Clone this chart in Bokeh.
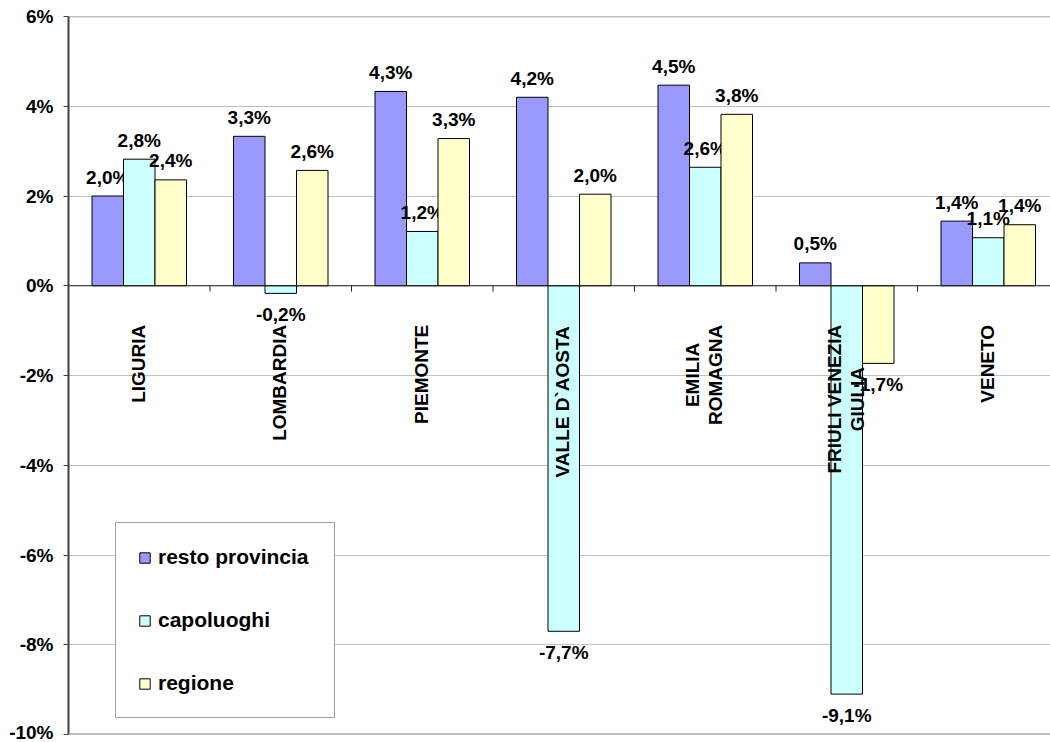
import math
from bokeh.plotting import figure
from bokeh.models import ColumnDataSource, Span, Legend, LegendItem, FixedTicker
from bokeh.core.properties import value
from bokeh.embed import file_html
from bokeh.resources import INLINE

# ---------------- data ----------------
categories = ["LIGURIA", "LOMBARDIA", "PIEMONTE", "VALLE D`AOSTA",
              "EMILIA\nROMAGNA", "FRIULI VENEZIA\nGIULIA", "VENETO"]
series_names = ["resto provincia", "capoluoghi", "regione"]
resto_provincia = [2.0, 3.33, 4.33, 4.2, 4.47, 0.51, 1.44]
capoluoghi = [2.82, -0.17, 1.21, -7.7, 2.64, -9.1, 1.07]
regione = [2.36, 2.57, 3.28, 2.04, 3.82, -1.73, 1.36]
y_ticks = [-10, -8, -6, -4, -2, 0, 2, 4, 6]
y_tick_labels = ["-10%", "-8%", "-6%", "-4%", "-2%", "0%", "2%", "4%", "6%"]
colors = ["#9999FF", "#CCFFFF", "#FFFFCC"]

# ---------------- layout ----------------
FONT = "Liberation Sans"
W, H = 1050, 742
LEFT, TOP, BOTTOM = 68, 16, 8
cat_px = 141.5
x_end = (W - LEFT) / cat_px
bar_w = 31.5 / cat_px
LABEL_PX = 19

# approximate Arial-bold advance widths (per 1000 em) for centering multi-line labels
_wid = {"A": 722, "B": 722, "C": 722, "D": 722, "E": 667, "F": 611, "G": 778, "H": 722,
        "I": 278, "J": 556, "K": 722, "L": 611, "M": 833, "N": 722, "O": 778, "P": 667,
        "Q": 778, "R": 722, "S": 667, "T": 611, "U": 722, "V": 667, "W": 944, "X": 667,
        "Y": 667, "Z": 611, " ": 278, "`": 333, "'": 238}


def text_w(s, px):
    return sum(_wid.get(c, 600) for c in s) * px / 1000.0


p = figure(width=W, height=H, x_range=(0, x_end), y_range=(-10, 6),
           output_backend="svg", toolbar_location=None, x_axis_location=None,
           min_border_left=LEFT, min_border_right=0, min_border_top=TOP,
           min_border_bottom=BOTTOM)
p.background_fill_color = "white"
p.border_fill_color = "white"
p.outline_line_color = None

# y axis
p.yaxis.ticker = FixedTicker(ticks=y_ticks)
p.yaxis.major_label_overrides = {t: l for t, l in zip(y_ticks, y_tick_labels)}
p.yaxis.major_label_text_font = FONT
p.yaxis.major_label_text_font_style = "bold"
p.yaxis.major_label_text_font_size = "19px"
p.yaxis.major_label_text_color = "black"
p.yaxis.major_label_standoff = 10
p.yaxis.major_tick_out = 5
p.yaxis.major_tick_in = 0
p.yaxis.minor_tick_line_color = None
p.yaxis.axis_line_color = "#404040"
p.yaxis.axis_line_width = 2
p.yaxis.major_tick_line_color = "#404040"

p.xgrid.grid_line_color = None
p.ygrid.ticker = FixedTicker(ticks=y_ticks)
p.ygrid.grid_line_color = "#C0C0C0"
p.ygrid.grid_line_width = 1

p.add_layout(Span(location=6, dimension="width", line_color="#808080", line_width=1.5))
p.add_layout(Span(location=-10, dimension="width", line_color="#808080", line_width=2))

# bars
series_vals = [resto_provincia, capoluoghi, regione]
renderers = []
for k, (name, vals, col) in enumerate(zip(series_names, series_vals, colors)):
    xs = [i + 0.5 + (k - 1) * bar_w for i in range(len(categories))]
    src = ColumnDataSource(dict(
        x=xs, top=vals,
        label=[("%.1f" % v).replace(".", ",") + "%" for v in vals],
        yoff=[-19 if v >= 0 else 21 for v in vals],
    ))
    r = p.vbar(x="x", top="top", bottom=0, width=bar_w, source=src,
               fill_color=col, line_color="black", line_width=1)
    renderers.append(r)
    p.text(x="x", y="top", text="label", source=src, y_offset="yoff",
           text_align="center", text_baseline="alphabetic",
           text_font=value(FONT), text_font_style="bold",
           text_font_size="19px", text_color="black")

# zero axis line and category boundary ticks
p.add_layout(Span(location=0, dimension="width", line_color="#202020", line_width=1.2))
bounds = [float(i) for i in range(1, len(categories) + 1)]
p.segment(x0=bounds, y0=[0] * len(bounds), x1=bounds, y1=[-0.13] * len(bounds),
          line_color="#202020", line_width=1)

# category labels (rotated, top-aligned block, centred lines)
line_h = 1.22 * LABEL_PX
lx, ly, lt, lxo, lyo = [], [], [], [], []
for i, cat in enumerate(categories):
    lines = cat.split("\n")
    n = len(lines)
    wmax = max(text_w(s, LABEL_PX) for s in lines)
    for j, s in enumerate(lines):
        lx.append(i + 0.5)
        ly.append(0)
        lt.append(s)
        lxo.append((j - (n - 1) / 2.0) * line_h - 1)
        lyo.append(39 + wmax / 2.0)
cat_src = ColumnDataSource(dict(x=lx, y=ly, text=lt, xo=lxo, yo=lyo))
p.text(x="x", y="y", text="text", source=cat_src, x_offset="xo", y_offset="yo",
       angle=math.pi / 2, text_align="center", text_baseline="middle",
       text_font=value(FONT), text_font_style="bold",
       text_font_size="19px", text_color="black")

legend = Legend(items=[LegendItem(label=n, renderers=[r]) for n, r in zip(series_names, renderers)],
                location=(47, 16), orientation="vertical",
                glyph_width=13, glyph_height=13, label_standoff=7,
                padding=22, spacing=39, margin=0, label_width=154,
                label_text_font=FONT, label_text_font_style="bold",
                label_text_font_size="21px", label_text_color="black",
                border_line_color="#404040", border_line_width=1,
                background_fill_color="white", background_fill_alpha=1.0)
p.add_layout(legend)

open("out.html", "w").write(file_html(p, INLINE))
